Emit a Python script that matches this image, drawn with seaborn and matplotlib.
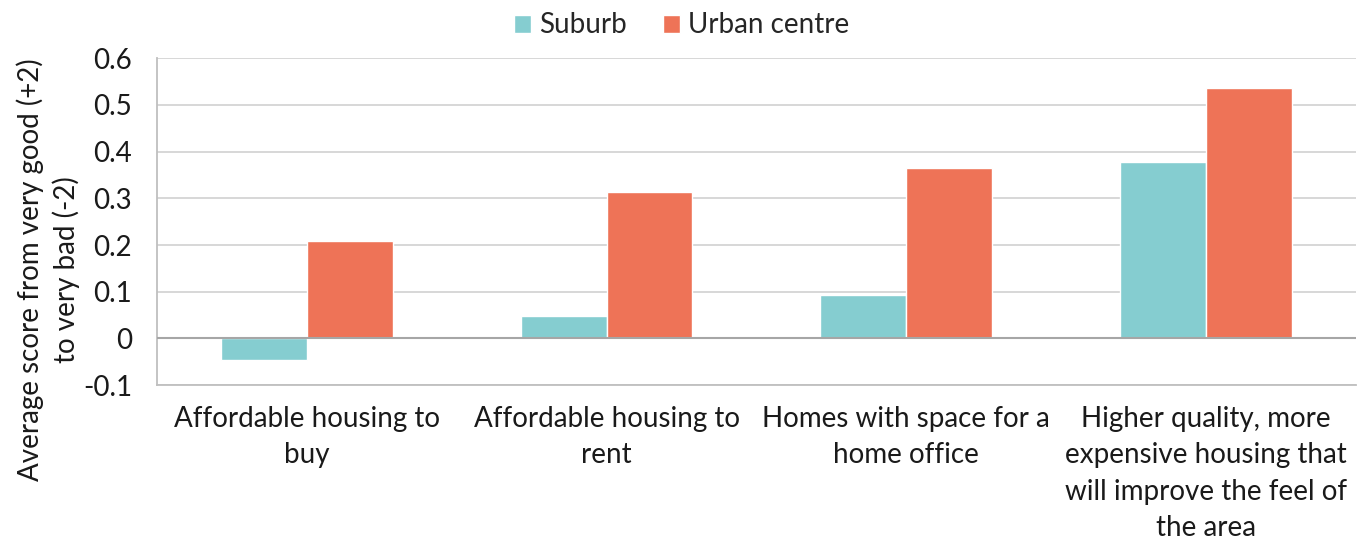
import matplotlib
matplotlib.use("Agg")
import matplotlib.pyplot as plt
import seaborn as sns
import pandas as pd

categories = [
    "Affordable housing to\nbuy",
    "Affordable housing to\nrent",
    "Homes with space for a\nhome office",
    "Higher quality, more\nexpensive housing that\nwill improve the feel of\nthe area",
]
suburb = [-0.046, 0.047, 0.092, 0.377]
urban_centre = [0.208, 0.313, 0.366, 0.536]
series_names = ["Suburb", "Urban centre"]
y_ticks = [-0.1, 0, 0.1, 0.2, 0.3, 0.4, 0.5, 0.6]
y_tick_labels = ["-0.1", "0", "0.1", "0.2", "0.3", "0.4", "0.5", "0.6"]

df = pd.DataFrame({
    "category": categories * 2,
    "series": [series_names[0]] * 4 + [series_names[1]] * 4,
    "value": suburb + urban_centre,
})

sns.set_theme(style="white")
plt.rcParams["font.family"] = ["Lato", "DejaVu Sans"]

FS = 20
TXT = "#1a1a1a"

fig = plt.figure(figsize=(13.64, 5.44), dpi=100)
ax = fig.add_axes([0.1151, 0.292, 0.8789, 0.601])

palette = {"Suburb": "#85CDD0", "Urban centre": "#EE7357"}
sns.barplot(data=df, x="category", y="value", hue="series", palette=palette,
            width=0.573, gap=0, saturation=1, ax=ax, legend=True, zorder=3)

ax.set_ylim(-0.1, 0.6)
ax.set_xlim(-0.5, 3.5)
ax.set_yticks(y_ticks)
ax.set_yticklabels(y_tick_labels)
ax.yaxis.grid(True, color="#D4D4D4", linewidth=1.3, zorder=0)
ax.axhline(0, color="#A6A6A6", linewidth=1.5, zorder=4)

for s in ["top", "right"]:
    ax.spines[s].set_visible(False)
for s in ["left", "bottom"]:
    ax.spines[s].set_color("#BFBFBF")
    ax.spines[s].set_linewidth(1.3)

ax.tick_params(axis="both", length=0, labelsize=FS, colors=TXT)
ax.tick_params(axis="y", pad=18)
ax.tick_params(axis="x", pad=15)
for lbl in ax.get_xticklabels():
    lbl.set_linespacing(1.5)
ax.set_xlabel("")
ax.set_ylabel("Average score from very good (+2)\nto very bad (-2)", fontsize=FS,
              color=TXT, linespacing=1.4)
ax.yaxis.set_label_coords(-0.064, 0.352)

handles, labels = ax.get_legend_handles_labels()
ax.get_legend().remove()
fig.legend(handles, labels, loc="upper center", bbox_to_anchor=(0.5, 1.023),
           ncol=2, frameon=False, fontsize=FS, handlelength=0.6, handleheight=0.6,
           handletextpad=0.3, columnspacing=1.3)

fig.savefig("out.png", dpi=100)
